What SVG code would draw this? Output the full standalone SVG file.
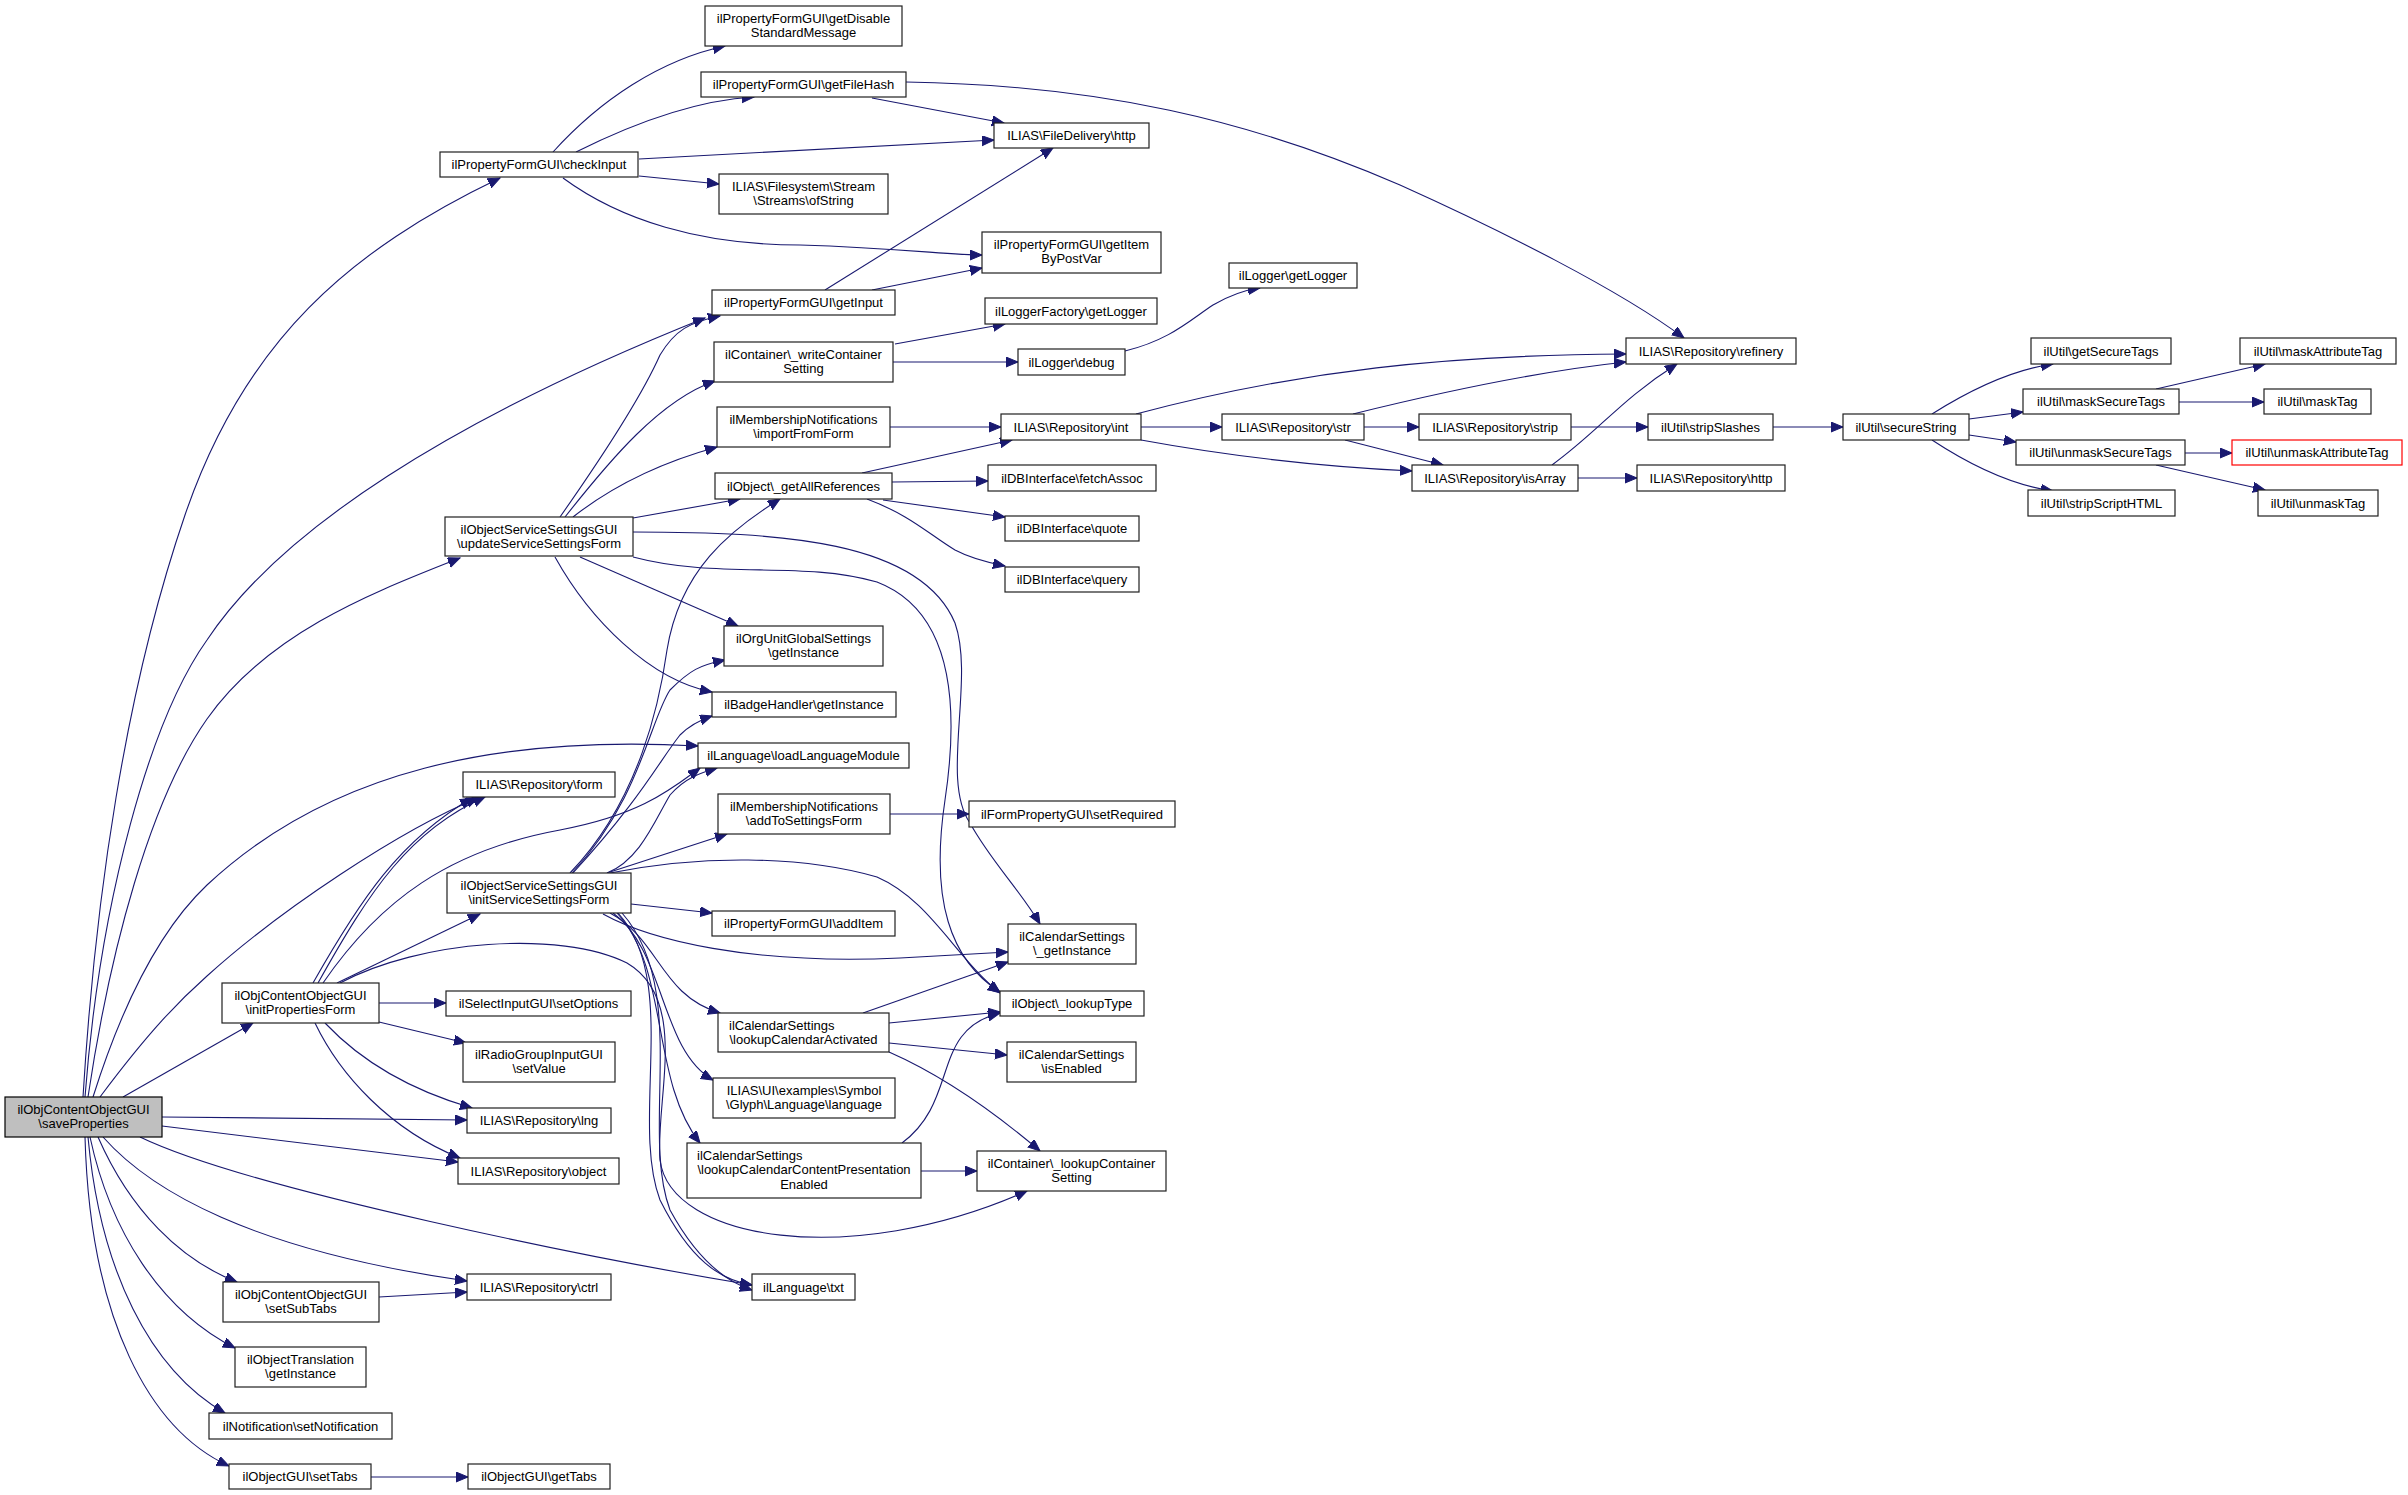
<svg xmlns="http://www.w3.org/2000/svg" width="2408" height="1495" viewBox="0 0 2408 1495">
<defs>
<style>
.n rect{fill:#fff;stroke:#202020;stroke-width:1.2}
.n text{font-family:"Liberation Sans",Arial,Helvetica,sans-serif;font-size:13px;fill:#000;text-anchor:middle}
.n text.l{text-anchor:start}
#saveProperties rect{fill:#bfbfbf;stroke:#000}
#unmaskAttributeTag rect{stroke:#ff0000}
.e path{fill:none;stroke:#191970;stroke-width:1.1;marker-end:url(#a)}
</style>
<marker id="a" markerUnits="userSpaceOnUse" markerWidth="14" markerHeight="11" refX="12" refY="5" orient="auto"><path d="M0,0 L12,5 L0,10 z" fill="#191970" stroke="#191970" stroke-width="1"/></marker>
</defs>
<rect width="2408" height="1495" fill="#fff"/>
<g id="edges" class="e">
<path d="M83,1097 C95,900 125,690 185,515 C245,340 350,250 500,178"/>
<path d="M85,1097 C100,900 150,720 207,640 C280,530 450,420 705,318"/>
<path d="M88,1097 C110,950 150,800 207,719 C270,630 380,590 460,558"/>
<path d="M93,1097 C130,980 170,920 207,885 C330,770 500,735 698,746"/>
<path d="M100,1097 C150,1030 180,1000 207,976 C280,910 400,830 478,798"/>
<path d="M123,1097 L253,1023"/>
<path d="M162,1117 L467,1120"/>
<path d="M162,1126 L458,1162"/>
<path d="M140,1137 C250,1190 600,1260 752,1285"/>
<path d="M103,1137 C150,1190 250,1250 467,1281"/>
<path d="M98,1137 C130,1210 180,1260 237,1282"/>
<path d="M90,1137 C110,1230 160,1310 235,1348"/>
<path d="M88,1137 C100,1270 150,1370 225,1413"/>
<path d="M85,1137 C90,1320 150,1430 229,1466"/>
<path d="M379,1297 L467,1292"/>
<path d="M371,1477 L468,1477"/>
<path d="M379,1003 L446,1003"/>
<path d="M379,1022 L466,1043"/>
<path d="M325,1023 C360,1060 410,1090 472,1108"/>
<path d="M315,1023 C340,1075 390,1130 460,1158"/>
<path d="M337,983 L480,914"/>
<path d="M323,983 C380,900 450,850 560,830 C640,815 670,790 700,768"/>
<path d="M313,983 C360,900 400,840 472,798"/>
<path d="M318,983 C370,890 410,830 485,797"/>
<path d="M340,983 C420,940 560,930 627,963 C690,1000 655,1100 660,1160 C670,1240 850,1270 1027,1191"/>
<path d="M560,517 C600,460 640,400 660,355 C675,330 690,322 720,316"/>
<path d="M565,517 C610,460 660,400 715,381"/>
<path d="M573,517 C620,480 670,460 717,447"/>
<path d="M633,518 L740,499"/>
<path d="M580,557 L738,626"/>
<path d="M555,557 C590,620 650,680 712,692"/>
<path d="M633,532 C780,532 920,540 955,623 C975,680 940,780 970,823 C990,860 1020,890 1040,924"/>
<path d="M633,557 C720,580 800,560 877,582 C950,610 960,700 945,800 C930,900 950,960 1000,992"/>
<path d="M570,873 C640,800 660,700 667,650 C680,570 730,530 780,499"/>
<path d="M572,873 C640,800 650,720 670,690 C690,670 700,665 725,660"/>
<path d="M573,873 C640,800 660,760 680,735 C690,725 700,720 712,716"/>
<path d="M607,873 C640,860 655,820 670,795 C685,778 700,773 717,768"/>
<path d="M607,873 L727,834"/>
<path d="M610,873 C700,855 800,855 877,877 C930,900 955,957 1000,993"/>
<path d="M631,904 L712,913"/>
<path d="M603,914 C650,940 750,965 900,958 C950,955 990,953 1008,952"/>
<path d="M610,913 C660,940 660,995 720,1013"/>
<path d="M613,913 C665,950 660,1050 713,1080"/>
<path d="M617,913 C670,970 650,1080 700,1143"/>
<path d="M618,913 C680,980 630,1120 660,1200 C690,1260 720,1280 752,1285"/>
<path d="M622,913 C690,990 640,1130 670,1210 C700,1265 730,1283 752,1290"/>
<path d="M863,1013 L1008,962"/>
<path d="M889,1023 L1000,1012"/>
<path d="M889,1043 L1007,1055"/>
<path d="M889,1052 C930,1070 980,1100 1040,1151"/>
<path d="M902,1143 C960,1100 930,1030 1000,1013"/>
<path d="M921,1171 L977,1171"/>
<path d="M553,152 C600,100 660,60 725,46"/>
<path d="M576,152 C640,120 700,100 754,97"/>
<path d="M639,159 L994,140"/>
<path d="M639,176 L719,184"/>
<path d="M563,178 C620,220 700,245 800,245 C900,248 950,255 982,255"/>
<path d="M872,98 L1004,123"/>
<path d="M906,82 C1100,85 1250,120 1400,185 C1500,230 1620,290 1684,338"/>
<path d="M825,290 L1053,148"/>
<path d="M872,290 L982,268"/>
<path d="M895,344 L1005,324"/>
<path d="M893,362 L1018,362"/>
<path d="M1125,351 C1170,340 1190,320 1213,305 C1230,295 1245,290 1260,288"/>
<path d="M890,427 L1001,427"/>
<path d="M862,473 L1012,440"/>
<path d="M892,482 L988,481"/>
<path d="M883,500 L1005,517"/>
<path d="M867,499 C910,515 930,535 955,550 C970,558 990,563 1005,566"/>
<path d="M1136,414 C1300,370 1450,355 1626,354"/>
<path d="M1141,427 L1222,427"/>
<path d="M1141,440 C1250,460 1350,468 1412,471"/>
<path d="M1353,414 C1450,390 1550,370 1626,362"/>
<path d="M1364,427 L1419,427"/>
<path d="M1345,440 L1443,465"/>
<path d="M1552,465 C1600,430 1620,400 1677,364"/>
<path d="M1578,478 L1637,478"/>
<path d="M1571,427 L1648,427"/>
<path d="M1773,427 L1843,427"/>
<path d="M1932,414 C1970,390 2010,370 2053,364"/>
<path d="M1969,419 L2023,412"/>
<path d="M1969,435 L2016,442"/>
<path d="M1932,440 C1970,465 2010,485 2053,491"/>
<path d="M2156,389 L2265,364"/>
<path d="M2179,402 L2264,402"/>
<path d="M2185,453 L2232,453"/>
<path d="M2156,465 L2265,490"/>
<path d="M890,814 L969,814"/>
</g>
<g id="saveProperties" class="n"><rect x="5" y="1097" width="157" height="40"/><text x="83.5" y="1113.5">ilObjContentObjectGUI</text><text x="83.5" y="1128">\saveProperties</text></g>
<g id="checkInput" class="n"><rect x="440" y="152" width="198" height="25"/><text x="539" y="169">ilPropertyFormGUI\checkInput</text></g>
<g id="getDisableStandardMessage" class="n"><rect x="705" y="6" width="197" height="40"/><text x="803.5" y="22.5">ilPropertyFormGUI\getDisable</text><text x="803.5" y="37">StandardMessage</text></g>
<g id="getFileHash" class="n"><rect x="701" y="72" width="205" height="25"/><text x="803.5" y="89">ilPropertyFormGUI\getFileHash</text></g>
<g id="fileDeliveryHttp" class="n"><rect x="994" y="123" width="155" height="25"/><text x="1071.5" y="140">ILIAS\FileDelivery\http</text></g>
<g id="ofString" class="n"><rect x="719" y="174" width="169" height="40"/><text x="803.5" y="190.5">ILIAS\Filesystem\Stream</text><text x="803.5" y="205">\Streams\ofString</text></g>
<g id="getItemByPostVar" class="n"><rect x="982" y="232" width="179" height="41"/><text x="1071.5" y="248.5">ilPropertyFormGUI\getItem</text><text x="1071.5" y="263">ByPostVar</text></g>
<g id="getInput" class="n"><rect x="712" y="290" width="183" height="25"/><text x="803.5" y="307">ilPropertyFormGUI\getInput</text></g>
<g id="loggerGetLogger" class="n"><rect x="1229" y="263" width="128" height="25"/><text x="1293" y="280">ilLogger\getLogger</text></g>
<g id="loggerFactoryGetLogger" class="n"><rect x="985" y="298" width="172" height="26"/><text x="1071" y="315.5">ilLoggerFactory\getLogger</text></g>
<g id="writeContainerSetting" class="n"><rect x="714" y="342" width="179" height="40"/><text x="803.5" y="358.5">ilContainer\_writeContainer</text><text x="803.5" y="373">Setting</text></g>
<g id="loggerDebug" class="n"><rect x="1018" y="349" width="107" height="26"/><text x="1071.5" y="366.5">ilLogger\debug</text></g>
<g id="importFromForm" class="n"><rect x="717" y="407" width="173" height="40"/><text x="803.5" y="423.5">ilMembershipNotifications</text><text x="803.5" y="438">\importFromForm</text></g>
<g id="repoInt" class="n"><rect x="1001" y="414" width="140" height="26"/><text x="1071" y="431.5">ILIAS\Repository\int</text></g>
<g id="repoStr" class="n"><rect x="1222" y="414" width="142" height="26"/><text x="1293" y="431.5">ILIAS\Repository\str</text></g>
<g id="repoStrip" class="n"><rect x="1419" y="414" width="152" height="26"/><text x="1495" y="431.5">ILIAS\Repository\strip</text></g>
<g id="getAllReferences" class="n"><rect x="715" y="473" width="177" height="26"/><text x="803.5" y="490.5">ilObject\_getAllReferences</text></g>
<g id="fetchAssoc" class="n"><rect x="988" y="465" width="168" height="26"/><text x="1072" y="482.5">ilDBInterface\fetchAssoc</text></g>
<g id="repoIsArray" class="n"><rect x="1412" y="465" width="166" height="26"/><text x="1495" y="482.5">ILIAS\Repository\isArray</text></g>
<g id="repoRefinery" class="n"><rect x="1626" y="338" width="170" height="26"/><text x="1711" y="355.5">ILIAS\Repository\refinery</text></g>
<g id="getSecureTags" class="n"><rect x="2031" y="338" width="140" height="26"/><text x="2101" y="355.5">ilUtil\getSecureTags</text></g>
<g id="maskAttributeTag" class="n"><rect x="2240" y="338" width="156" height="26"/><text x="2318" y="355.5">ilUtil\maskAttributeTag</text></g>
<g id="maskSecureTags" class="n"><rect x="2023" y="389" width="156" height="25"/><text x="2101" y="406">ilUtil\maskSecureTags</text></g>
<g id="maskTag" class="n"><rect x="2264" y="389" width="107" height="25"/><text x="2317.5" y="406">ilUtil\maskTag</text></g>
<g id="stripSlashes" class="n"><rect x="1648" y="414" width="125" height="26"/><text x="1710.5" y="431.5">ilUtil\stripSlashes</text></g>
<g id="secureString" class="n"><rect x="1843" y="414" width="126" height="26"/><text x="1906" y="431.5">ilUtil\secureString</text></g>
<g id="unmaskSecureTags" class="n"><rect x="2016" y="440" width="169" height="25"/><text x="2100.5" y="457">ilUtil\unmaskSecureTags</text></g>
<g id="unmaskAttributeTag" class="n"><rect x="2232" y="440" width="170" height="25"/><text x="2317" y="457">ilUtil\unmaskAttributeTag</text></g>
<g id="repoHttp" class="n"><rect x="1637" y="465" width="148" height="26"/><text x="1711" y="482.5">ILIAS\Repository\http</text></g>
<g id="stripScriptHTML" class="n"><rect x="2028" y="490" width="147" height="26"/><text x="2101.5" y="507.5">ilUtil\stripScriptHTML</text></g>
<g id="unmaskTag" class="n"><rect x="2258" y="490" width="120" height="26"/><text x="2318" y="507.5">ilUtil\unmaskTag</text></g>
<g id="updateServiceSettingsForm" class="n"><rect x="445" y="517" width="188" height="39"/><text x="539" y="533.5">ilObjectServiceSettingsGUI</text><text x="539" y="548">\updateServiceSettingsForm</text></g>
<g id="dbQuote" class="n"><rect x="1005" y="516" width="134" height="25"/><text x="1072" y="533">ilDBInterface\quote</text></g>
<g id="dbQuery" class="n"><rect x="1005" y="567" width="134" height="25"/><text x="1072" y="584">ilDBInterface\query</text></g>
<g id="orgUnitGetInstance" class="n"><rect x="724" y="626" width="159" height="40"/><text x="803.5" y="642.5">ilOrgUnitGlobalSettings</text><text x="803.5" y="657">\getInstance</text></g>
<g id="badgeGetInstance" class="n"><rect x="712" y="692" width="184" height="25"/><text x="804" y="709">ilBadgeHandler\getInstance</text></g>
<g id="loadLanguageModule" class="n"><rect x="698" y="743" width="211" height="25"/><text x="803.5" y="760">ilLanguage\loadLanguageModule</text></g>
<g id="repoForm" class="n"><rect x="463" y="772" width="152" height="25"/><text x="539" y="789">ILIAS\Repository\form</text></g>
<g id="addToSettingsForm" class="n"><rect x="718" y="794" width="172" height="40"/><text x="804" y="810.5">ilMembershipNotifications</text><text x="804" y="825">\addToSettingsForm</text></g>
<g id="setRequired" class="n"><rect x="969" y="801" width="206" height="26"/><text x="1072" y="818.5">ilFormPropertyGUI\setRequired</text></g>
<g id="initServiceSettingsForm" class="n"><rect x="447" y="873" width="184" height="40"/><text x="539" y="889.5">ilObjectServiceSettingsGUI</text><text x="539" y="904">\initServiceSettingsForm</text></g>
<g id="addItem" class="n"><rect x="712" y="911" width="183" height="25"/><text x="803.5" y="928">ilPropertyFormGUI\addItem</text></g>
<g id="calGetInstance" class="n"><rect x="1008" y="924" width="128" height="40"/><text x="1072" y="940.5">ilCalendarSettings</text><text x="1072" y="955">\_getInstance</text></g>
<g id="initPropertiesForm" class="n"><rect x="222" y="983" width="157" height="40"/><text x="300.5" y="999.5">ilObjContentObjectGUI</text><text x="300.5" y="1014">\initPropertiesForm</text></g>
<g id="setOptions" class="n"><rect x="446" y="991" width="185" height="25"/><text x="538.5" y="1008">ilSelectInputGUI\setOptions</text></g>
<g id="lookupType" class="n"><rect x="1000" y="991" width="144" height="25"/><text x="1072" y="1008">ilObject\_lookupType</text></g>
<g id="lookupCalendarActivated" class="n"><rect x="718" y="1013" width="171" height="39"/><text class="l" x="729" y="1029.5">ilCalendarSettings</text><text x="803.5" y="1044">\lookupCalendarActivated</text></g>
<g id="setValue" class="n"><rect x="463" y="1042" width="152" height="40"/><text x="539" y="1058.5">ilRadioGroupInputGUI</text><text x="539" y="1073">\setValue</text></g>
<g id="calIsEnabled" class="n"><rect x="1007" y="1042" width="129" height="40"/><text x="1071.5" y="1058.5">ilCalendarSettings</text><text x="1071.5" y="1073">\isEnabled</text></g>
<g id="glyphLanguage" class="n"><rect x="713" y="1078" width="182" height="40"/><text x="804" y="1094.5">ILIAS\UI\examples\Symbol</text><text x="804" y="1109">\Glyph\Language\language</text></g>
<g id="repoLng" class="n"><rect x="467" y="1108" width="144" height="25"/><text x="539" y="1125">ILIAS\Repository\lng</text></g>
<g id="lookupCalendarContentPresentationEnabled" class="n"><rect x="687" y="1143" width="234" height="55"/><text class="l" x="697" y="1159.5">ilCalendarSettings</text><text x="804" y="1174">\lookupCalendarContentPresentation</text><text x="804" y="1188.5">Enabled</text></g>
<g id="lookupContainerSetting" class="n"><rect x="977" y="1151" width="189" height="40"/><text x="1071.5" y="1167.5">ilContainer\_lookupContainer</text><text x="1071.5" y="1182">Setting</text></g>
<g id="repoObject" class="n"><rect x="458" y="1158" width="161" height="26"/><text x="538.5" y="1175.5">ILIAS\Repository\object</text></g>
<g id="repoCtrl" class="n"><rect x="467" y="1274" width="144" height="26"/><text x="539" y="1291.5">ILIAS\Repository\ctrl</text></g>
<g id="languageTxt" class="n"><rect x="752" y="1274" width="103" height="26"/><text x="803.5" y="1291.5">ilLanguage\txt</text></g>
<g id="setSubTabs" class="n"><rect x="223" y="1282" width="156" height="40"/><text x="301" y="1298.5">ilObjContentObjectGUI</text><text x="301" y="1313">\setSubTabs</text></g>
<g id="objectTranslation" class="n"><rect x="235" y="1347" width="131" height="40"/><text x="300.5" y="1363.5">ilObjectTranslation</text><text x="300.5" y="1378">\getInstance</text></g>
<g id="setNotification" class="n"><rect x="209" y="1413" width="183" height="26"/><text x="300.5" y="1430.5">ilNotification\setNotification</text></g>
<g id="setTabs" class="n"><rect x="229" y="1464" width="142" height="25"/><text x="300" y="1481">ilObjectGUI\setTabs</text></g>
<g id="getTabs" class="n"><rect x="468" y="1464" width="142" height="25"/><text x="539" y="1481">ilObjectGUI\getTabs</text></g>
</svg>
